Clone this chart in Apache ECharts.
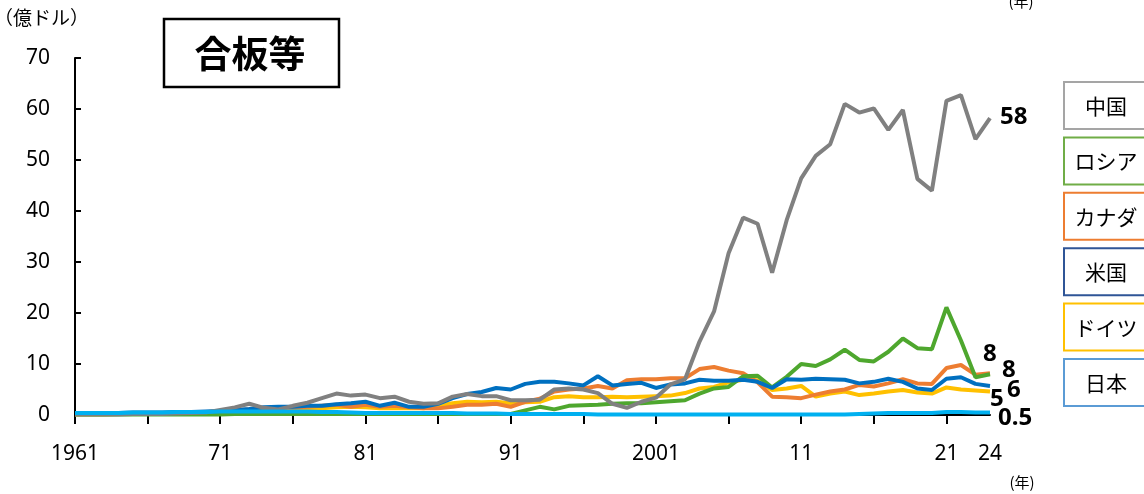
<!DOCTYPE html>
<html>
<head>
<meta charset="utf-8">
<script src="https://cdn.jsdelivr.net/npm/echarts@6/dist/echarts.min.js"></script>
<style>
html,body{margin:0;padding:0;background:#fff;}
#c{width:1144px;height:494px;}
</style>
</head>
<body>
<div id="c"></div>
<script>
// ---- data ----
const years = [];
for (let y = 1961; y <= 2024; y++) years.push(String(y));

const tickLabelIndex = [0, 10, 20, 30, 40, 50, 60, 63];
const tickLabelText  = ['1961', '71', '81', '91', '2001', '11', '21', '24'];

const seriesNames  = ['中国', 'ロシア', 'カナダ', '米国', 'ドイツ', '日本'];

const china = [
  0.1,0.1,0.1,0.1,0.2,0.2,0.2,0.3,0.4,0.5,
  1.0,1.5,2.2,1.4,1.1,1.8,2.4,3.3,4.2,3.8,
  4.0,3.3,3.6,2.6,2.2,2.3,3.6,4.1,3.7,3.7,
  2.9,2.9,3.0,5.0,5.2,5.0,4.3,2.2,1.4,2.6,
  3.4,6.0,7.0,14.4,20.3,31.7,38.7,37.5,27.9,38.2,
  46.4,50.8,53.1,61.0,59.3,60.1,55.9,59.8,46.3,44.0,
  61.6,62.7,54.1,58.2
];
const russia = [
  0.1,0.1,0.1,0.1,0.1,0.1,0.1,0.1,0.1,0.1,
  0.1,0.2,0.2,0.2,0.2,0.2,0.2,0.2,0.2,0.2,
  0.2,0.2,0.2,0.2,0.2,0.2,0.2,0.2,0.2,0.2,
  0.2,0.9,1.6,1.1,1.8,1.9,2.0,2.2,2.3,2.3,
  2.5,2.7,2.9,4.2,5.2,5.5,7.6,7.7,5.4,7.5,
  10.0,9.6,10.9,12.8,10.8,10.5,12.4,15.0,13.1,12.9,
  21.1,14.6,7.4,8.0
];
const canada = [
  0.2,0.2,0.2,0.3,0.3,0.3,0.3,0.4,0.4,0.5,
  0.7,0.9,1.1,1.2,1.3,1.4,1.6,1.8,2.0,1.6,
  2.0,1.6,1.8,1.5,1.3,1.3,1.6,2.0,2.0,2.2,
  1.6,2.6,3.2,4.6,5.0,5.2,5.7,5.2,6.8,7.0,
  7.0,7.2,7.2,9.0,9.4,8.7,8.2,6.4,3.6,3.5,
  3.3,4.0,4.6,5.0,5.9,5.6,6.2,7.0,6.2,6.1,
  9.2,9.8,7.9,8.2
];
const usa = [
  0.4,0.4,0.4,0.4,0.5,0.5,0.5,0.6,0.6,0.7,
  0.8,1.0,1.2,1.5,1.6,1.6,1.8,1.8,2.1,2.3,
  2.6,1.8,2.4,1.6,1.6,2.2,3.3,4.1,4.5,5.3,
  5.0,6.1,6.5,6.5,6.2,5.8,7.6,5.8,6.1,6.3,
  5.3,6.0,6.2,6.9,6.7,6.7,6.9,6.5,5.3,7.0,
  6.9,7.1,7.0,6.9,6.2,6.5,7.1,6.5,5.2,4.9,
  7.1,7.4,6.1,5.7
];
const germany = [
  0.1,0.1,0.1,0.2,0.2,0.2,0.2,0.3,0.3,0.4,
  0.5,0.6,0.7,0.8,0.9,1.0,1.1,1.3,1.5,1.6,
  1.5,1.3,1.3,1.3,1.3,1.8,2.3,2.6,2.5,2.6,
  2.3,2.5,2.6,3.5,3.7,3.5,3.5,3.6,3.5,3.6,
  3.7,3.8,4.3,5.2,5.5,6.4,6.9,6.8,4.9,5.2,
  5.7,3.6,4.2,4.6,3.9,4.2,4.6,4.9,4.4,4.2,
  5.4,5.0,4.8,4.6
];
const japan = [
  0.4,0.4,0.4,0.4,0.5,0.5,0.5,0.6,0.6,0.6,
  0.7,0.7,0.7,0.7,0.7,0.7,0.7,0.6,0.6,0.5,
  0.4,0.4,0.4,0.4,0.4,0.4,0.4,0.3,0.3,0.3,
  0.2,0.2,0.2,0.2,0.2,0.2,0.1,0.1,0.1,0.1,
  0.1,0.1,0.1,0.1,0.1,0.1,0.1,0.1,0.1,0.1,
  0.1,0.1,0.1,0.1,0.2,0.3,0.4,0.4,0.4,0.4,
  0.6,0.6,0.5,0.5
];
const seriesValues = [china, russia, canada, usa, germany, japan];

// ---- styles ----
const FONT = "'Noto Sans', 'Noto Sans CJK JP', sans-serif";
const CJK  = "'Noto Sans CJK JP', sans-serif";
const lineColors   = ['#808080', '#4ea72e', '#ed7d31', '#0070c0', '#ffc000', '#00b0f0'];
const boxColors    = ['#a5a5a5', '#70ad47', '#ed7d31', '#2f5597', '#ffc000', '#5b9bd5'];
const endOffsets   = [[10, -1], [-7, -20], [12, -3], [17, 4], [0, 8], [8, 6]];
const drawOrder    = [4, 2, 1, 3, 0, 5];

function endText(v) {
  return v >= 1 ? String(Math.round(v)) : v.toFixed(1);
}

const series = drawOrder.map(i => ({
  name: seriesNames[i],
  type: 'line',
  data: seriesValues[i],
  symbol: 'none',
  smooth: false,
  z: 2,
  lineStyle: { color: lineColors[i], width: 4 },
  itemStyle: { color: lineColors[i] },
  endLabel: {
    show: true,
    distance: 0,
    offset: endOffsets[i],
    formatter: p => endText(p.value),
    color: '#000',
    fontFamily: FONT,
    fontSize: 24,
    fontWeight: 'bold'
  },
  emphasis: { disabled: true }
}));

const graphics = [
  { type: 'rect', shape: { x: 164, y: 19, width: 175, height: 68 },
    style: { fill: '#fff', stroke: '#000', lineWidth: 2.5 } },
  { type: 'text', x: 250, y: 54,
    style: { text: '合板等', fill: '#000', font: "bold 37px " + CJK, textAlign: 'center', textVerticalAlign: 'middle' } },
  { type: 'text', x: -6, y: 18,
    style: { text: '（億ドル）', fill: '#000', font: "19px " + CJK, textAlign: 'left', textVerticalAlign: 'middle' } },
  { type: 'text', x: 1021, y: 1,
    style: { text: '(年)', fill: '#000', font: "15px " + CJK, textAlign: 'center', textVerticalAlign: 'middle' } },
  { type: 'text', x: 1022, y: 482,
    style: { text: '(年)', fill: '#000', font: "15px " + CJK, textAlign: 'center', textVerticalAlign: 'middle' } }
];
seriesNames.forEach((n, i) => {
  const top = 82 + i * 55.4;
  graphics.push({ type: 'rect', shape: { x: 1064, y: top, width: 90, height: 47 },
    style: { fill: '#fff', stroke: boxColors[i], lineWidth: 2 } });
  graphics.push({ type: 'text', x: 1106, y: top + 24,
    style: { text: n, fill: '#000', font: "21px " + CJK, textAlign: 'center', textVerticalAlign: 'middle' } });
});

const chart = echarts.init(document.getElementById('c'), null, { renderer: 'canvas' });
chart.setOption({
  animation: false,
  backgroundColor: '#fff',
  textStyle: { fontFamily: FONT },
  grid: { left: 75, right: 154, top: 58, bottom: 79, containLabel: false },
  xAxis: {
    type: 'category',
    data: years,
    boundaryGap: false,
    axisLine: { lineStyle: { color: '#000', width: 2 } },
    axisTick: { interval: (i) => i % 5 === 0, length: 9, lineStyle: { color: '#000', width: 2 } },
    axisLabel: {
      interval: (i) => tickLabelIndex.indexOf(i) >= 0,
      formatter: (v, i) => { const k = tickLabelIndex.indexOf(i); return k >= 0 ? tickLabelText[k] : ''; },
      color: '#000', fontSize: 21, fontFamily: FONT, margin: 29
    },
    splitLine: { show: false }
  },
  yAxis: {
    type: 'value',
    min: 0, max: 70, interval: 10,
    axisLine: { show: true, lineStyle: { color: '#000', width: 2 } },
    axisTick: { show: true, inside: true, length: 6, lineStyle: { color: '#000', width: 2 } },
    axisLabel: { color: '#000', fontSize: 21, fontFamily: FONT, margin: 25 },
    splitLine: { show: false }
  },
  series: series,
  graphic: graphics
});
</script>
</body>
</html>
